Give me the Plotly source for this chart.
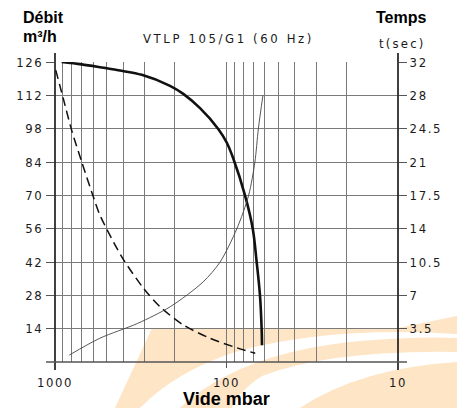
import plotly.graph_objects as go

# ---------------- data ----------------
flow_p = [914, 700, 546, 409, 312, 213.5, 178.6, 142.7, 112, 99.9, 91.3, 78.0, 70.3, 66.7, 63.8, 62.4, 62.1]
flow_q = [126, 125.0, 123.8, 122.3, 120.6, 116, 112.6, 106.6, 98, 92.3, 85.5, 70, 56, 42, 28, 14, 7]

dash_p = [990, 895, 800, 699, 598, 547, 408, 305, 244, 178, 125, 91, 68]
dash_q = [122.6, 110.7, 97.4, 84.1, 69.4, 61.7, 44.2, 31, 23.2, 15.5, 10, 6.4, 3.65]

time_p = [825, 547, 330, 213, 137, 109, 87, 74.3, 68.3, 65.2, 61.3]
time_t = [0.73, 2.5, 4.05, 5.8, 8.4, 10.5, 14, 17.5, 21, 24.5, 28]

x_grid = [1000, 900, 800, 700, 600, 500, 400, 300, 200,
          100, 90, 80, 70, 60, 50, 40, 30, 20, 10]
x_labels = {1000: "1000", 100: "100", 10: "10"}

y_left_vals = [14, 28, 42, 56, 70, 84, 98, 112, 126]
y_left_text = ["14", "28", "42", "56", "70", "84", "98", "112", "126"]
y_right_vals = [3.5, 7, 10.5, 14, 17.5, 21, 24.5, 28, 31.5]
y_right_text = ["3.5", "7", "10.5", "14", "17.5", "21", "24.5", "28", "32"]

# ---------------- geometry helpers ----------------
W, H = 457, 408
L, R, T, B = 55, 398, 62, 362


def px(x):
    return (x - L) / (R - L)


def py(y):
    return (B - y) / (B - T)


def sp(t, s=1.6):
    return f'<span style="letter-spacing:{s}px">{t}</span>'


COND = "Liberation Sans Narrow, DejaVu Sans Condensed, Liberation Sans, Arial, sans-serif"
BOLD = "Liberation Sans, Arial, sans-serif"
INK = "#1a1a1a"

fig = go.Figure()

fig.add_trace(go.Scatter(x=flow_p, y=flow_q, mode="lines",
                         line=dict(color="#111", width=2.6, shape="spline", smoothing=1.0),
                         showlegend=False, hoverinfo="skip"))
fig.add_trace(go.Scatter(x=dash_p, y=dash_q, mode="lines",
                         line=dict(color="#111", width=1.5, dash="9px,5px", shape="spline", smoothing=0.8),
                         showlegend=False, hoverinfo="skip"))
fig.add_trace(go.Scatter(x=time_p, y=time_t, mode="lines", yaxis="y2",
                         line=dict(color="#444", width=0.9, shape="spline", smoothing=0.8),
                         showlegend=False, hoverinfo="skip"))

tickfont = dict(family=COND, size=13, color=INK)

fig.update_layout(
    width=W, height=H, autosize=False,
    margin=dict(l=L, r=W - R, t=T, b=H - B, pad=0),
    paper_bgcolor="white", plot_bgcolor="white",
    xaxis=dict(type="log", range=[3, 1], tickmode="array", automargin=False, tickangle=0,
               tickvals=x_grid, ticktext=[sp(x_labels.get(v, "")) for v in x_grid],
               ticks="", showgrid=True, gridcolor="#7a7a7a", gridwidth=1,
               zeroline=False, showline=False, tickfont=tickfont, ticklabelstandoff=11),
    yaxis=dict(range=[0, 126], tickmode="array", tickvals=y_left_vals, automargin=False,
               ticktext=[sp(t) for t in y_left_text],
               ticks="outside", ticklen=8, tickcolor="#555", tickwidth=1,
               showgrid=True, gridcolor="#7a7a7a", gridwidth=1,
               zeroline=False, showline=False, tickfont=tickfont),
    yaxis2=dict(range=[0, 31.5], overlaying="y", side="right", tickmode="array", automargin=False,
                tickvals=y_right_vals, ticktext=[sp(t) for t in y_right_text],
                ticks="outside", ticklen=8, tickcolor="#555", tickwidth=1,
                showgrid=False, zeroline=False, showline=False, tickfont=tickfont),
)

# ---------------- watermark (light orange logo) ----------------
ORANGE = "#fde5c6"


def path(pts):
    out = []
    for cmd, coords in pts:
        if coords:
            out.append(cmd + " " + " ".join(f"{px(x):.4f},{py(y):.4f}" for x, y in coords))
        else:
            out.append(cmd)
    return " ".join(out)


wm = [
    [("M", [(115, 408)]), ("L", [(152, 328)]), ("L", [(398, 328)]), ("L", [(457, 316)]),
     ("L", [(457, 334)]), ("Q", [(330, 326), (235, 352)]), ("Q", [(175, 372), (140, 408)]), ("Z", [])],
    [("M", [(180, 408)]), ("Q", [(240, 352), (360, 341)]), ("Q", [(420, 336), (457, 338)]),
     ("L", [(457, 352)]), ("Q", [(330, 350), (262, 376)]), ("Q", [(240, 390), (232, 408)]), ("Z", [])],
    [("M", [(300, 408)]), ("Q", [(360, 368), (457, 362)]), ("L", [(457, 408)]), ("Z", [])],
]
for w in wm:
    fig.add_shape(type="path", path=path(w), xref="paper", yref="paper",
                  fillcolor=ORANGE, line=dict(width=0), layer="below")

# ---------------- axis frame lines ----------------
fig.add_shape(type="line", xref="paper", yref="paper", x0=px(55), x1=px(55), y0=py(370), y1=py(53),
              line=dict(color="#111", width=1.6))
fig.add_shape(type="line", xref="paper", yref="paper", x0=px(398), x1=px(398), y0=py(370), y1=py(53),
              line=dict(color="#111", width=1.6))
fig.add_shape(type="line", xref="paper", yref="paper", x0=px(46), x1=px(407), y0=py(362), y1=py(362),
              line=dict(color="#555", width=1.5))
fig.add_shape(type="line", xref="x", yref="paper", x0=100, x1=100, y0=py(362), y1=py(368),
              line=dict(color="#555", width=1))

# ---------------- texts ----------------
ann = [
    dict(text="<b>Débit</b>", x=px(21), y=py(18), xanchor="left", yanchor="middle",
         font=dict(family=BOLD, size=16, color="#000")),
    dict(text="<b>m³/h</b>", x=px(21), y=py(36), xanchor="left", yanchor="middle",
         font=dict(family=BOLD, size=16, color="#000")),
    dict(text="<b>Temps</b>", x=px(428), y=py(18), xanchor="right", yanchor="middle",
         font=dict(family=BOLD, size=16, color="#000")),
    dict(text=sp("t(sec)", 2.2), x=px(428), y=py(43.5), xanchor="right", yanchor="middle",
         font=dict(family=COND, size=13, color=INK)),
    dict(text=sp("VTLP 105/G1 (60 Hz)", 2.6), x=px(228), y=py(38.5), xanchor="center", yanchor="middle",
         font=dict(family=COND, size=13, color=INK)),
    dict(text="<b>Vide mbar</b>", x=px(226), y=py(398.5), xanchor="center", yanchor="middle",
         font=dict(family=BOLD, size=18, color="#000")),
]
for a in ann:
    fig.add_annotation(xref="paper", yref="paper", showarrow=False, **a)

fig.write_html("out.html", config={"displayModeBar": False},
               post_script="document.body.style.margin='0';document.body.style.overflow='hidden';")
